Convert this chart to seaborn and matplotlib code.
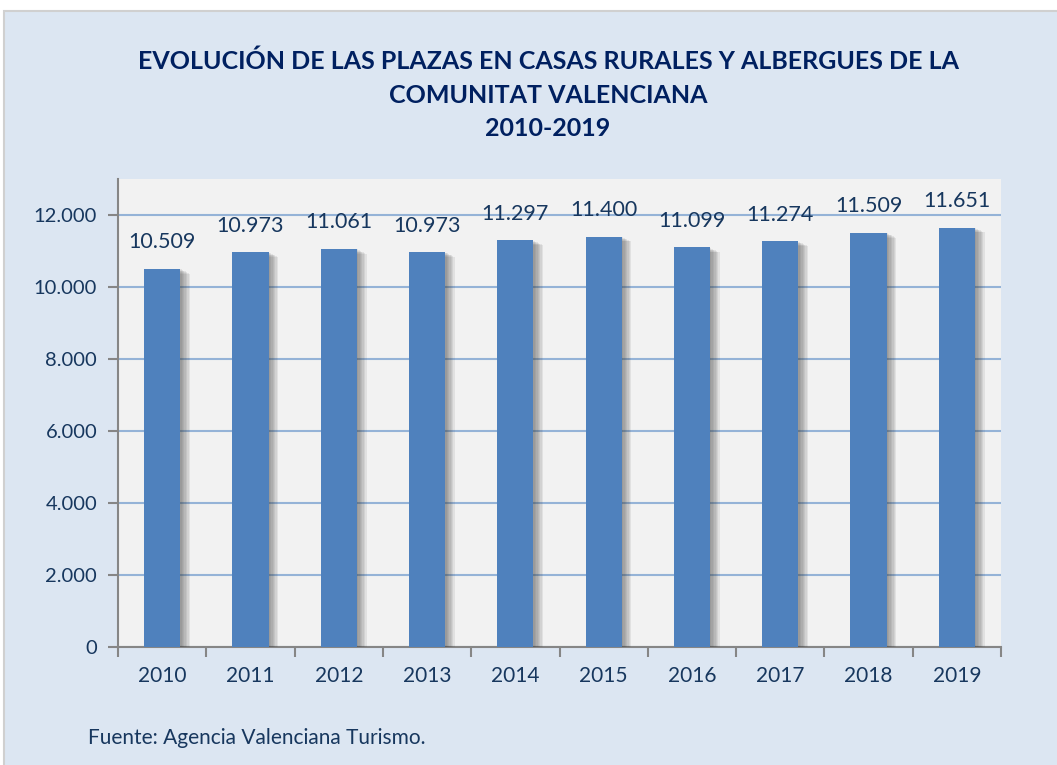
import matplotlib
matplotlib.use('Agg')
import matplotlib.pyplot as plt
import matplotlib.patheffects as pe
from matplotlib.patches import Rectangle
from matplotlib.ticker import FuncFormatter, FixedLocator
import seaborn as sns
import pandas as pd


# data
years = ['2010', '2011', '2012', '2013', '2014', '2015', '2016', '2017', '2018', '2019']
plazas = [10509, 10973, 11061, 10973, 11297, 11400, 11099, 11274, 11509, 11651]

title = ('EVOLUCIÓN DE LAS PLAZAS EN CASAS RURALES Y ALBERGUES DE LA\n'
         'COMUNITAT VALENCIANA\n2010-2019')
source = 'Fuente: Agencia Valenciana Turismo.'

df = pd.DataFrame({'year': years, 'plazas': plazas})

sns.set_theme(style='white')
plt.rcParams['font.family'] = ['Lato', 'DejaVu Sans']

navy = '#17375E'
bar_color = '#4F81BD'
grid_color = '#95B3D7'
spine_color = '#868686'

fig = plt.figure(figsize=(10.57, 7.65), dpi=100)
fig.patch.set_facecolor('white')
# outer light-blue panel
fig.patches.append(Rectangle((4 / 1057, -0.01), 1.02, (754 / 765) + 0.01,
                             transform=fig.transFigure, facecolor='#DCE6F2',
                             edgecolor='#D0D0D0', linewidth=1.5, zorder=-5))

ax = fig.add_axes([118 / 1057, 118 / 765, 883 / 1057, 468 / 765])
ax.set_zorder(1)
ax.set_facecolor('#F2F2F2')

sns.barplot(data=df, x='year', y='plazas', color=bar_color, width=0.41,
            saturation=1, ax=ax, zorder=3)

# soft drop shadow to the right of each bar
shadow = [pe.SimplePatchShadow(offset=(k, -k * 0.5), shadow_rgbFace='#404040', alpha=0.09)
          for k in range(1, 8)]
for bar in ax.patches:
    bar.set_edgecolor('none')
    bar.set_path_effects(shadow + [pe.Normal()])

for i, v in enumerate(plazas):
    ax.annotate('{:,}'.format(v).replace(',', '.'), (i, v), xytext=(0, 19),
                textcoords='offset points', ha='center', va='center',
                fontsize=15.5, color=navy, zorder=5)

ax.set_ylim(0, 13000)
ax.set_xlim(-0.5, len(years) - 0.5)
ax.yaxis.set_major_locator(FixedLocator(range(0, 12001, 2000)))
ax.yaxis.set_major_formatter(FuncFormatter(lambda x, p: '{:,.0f}'.format(x).replace(',', '.')))
ax.grid(True, axis='y', color=grid_color, linewidth=1.5)
ax.set_axisbelow(True)

ax.set_xlabel('')
ax.set_ylabel('')
ax.tick_params(axis='x', which='major', length=0, pad=14, labelsize=15, labelcolor=navy)
ax.set_xticks([i + 0.5 for i in range(-1, len(years))], minor=True)
ax.tick_params(axis='x', which='minor', length=7, width=1.5, color=spine_color, direction='out', bottom=True)
ax.tick_params(axis='y', length=7, width=1.5, color=spine_color, direction='out', left=True,
               labelsize=14.5, labelcolor=navy, pad=8)

for s in ['top', 'right']:
    ax.spines[s].set_visible(False)
for s in ['left', 'bottom']:
    ax.spines[s].set_color(spine_color)
    ax.spines[s].set_linewidth(1.5)

fig.text(548 / 1057, 1 - 95 / 765, title, ha='center', va='center', fontsize=18,
         fontweight='bold', color='#002060', linespacing=1.55)
fig.text(88 / 1057, 1 - 738 / 765, source, ha='left', va='center', fontsize=15, color=navy)

fig.savefig('out.png', dpi=100, facecolor=fig.get_facecolor())
